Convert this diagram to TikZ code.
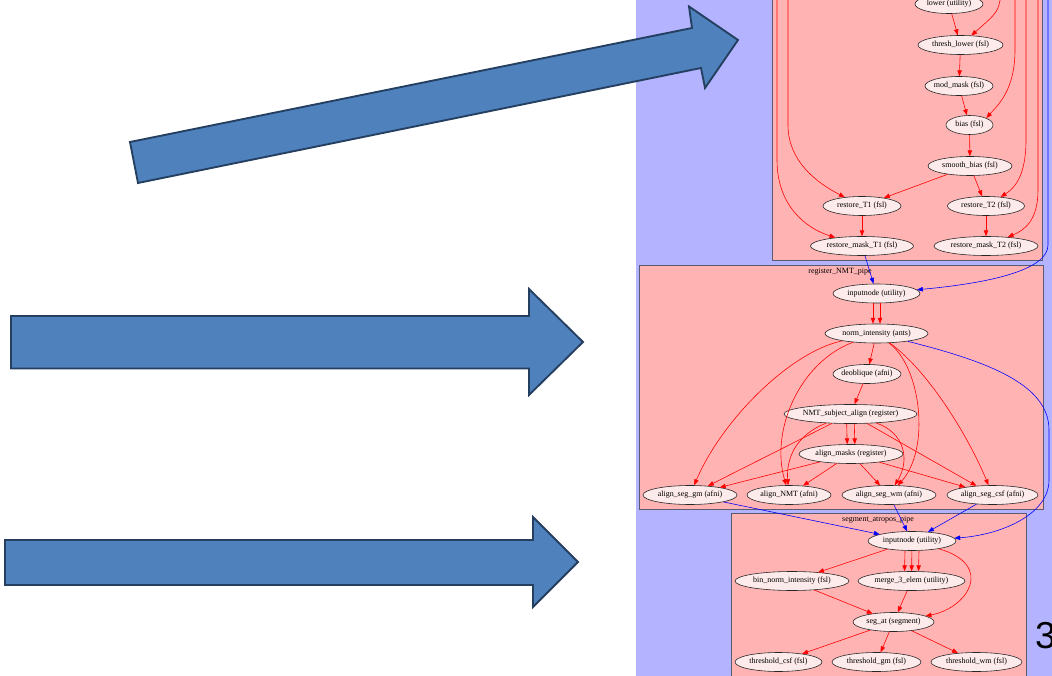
\documentclass[tikz,border=0pt]{standalone}
\usepackage{fontspec}
\setmainfont{Liberation Serif}
\newfontfamily\slidefont{Liberation Sans}
\usetikzlibrary{shapes.geometric,arrows.meta,calc}
\definecolor{slideblue}{HTML}{4F81BD}
\definecolor{slideedge}{HTML}{243F60}
\definecolor{graphbg}{HTML}{B3B3FF}
\definecolor{clusterbg}{HTML}{FFB3B3}
\definecolor{clusterline}{HTML}{5A5A70}
\definecolor{jobfill}{HTML}{FDEAEA}

\begin{document}
\begin{tikzpicture}[x=0.03cm, y=0.03cm,
		job/.style={ellipse, draw=black!85, fill=jobfill, line width=0.5pt, inner sep=-3pt,
			minimum height=0.57cm, minimum width=#1*0.03cm, font=\fontsize{6.8}{7}\selectfont},
		cluster/.style={fill=clusterbg, draw=clusterline, line width=0.6pt},
		caption/.style={inner sep=0pt, font=\fontsize{6.8}{7}\selectfont},
		flow/.style={red, line width=0.5pt, -{Triangle[length=5pt,width=3.8pt]}},
		feed/.style={blue, line width=0.5pt, -{Triangle[length=5pt,width=3.8pt]}},
		bigarrow/.style={fill=slideblue, draw=slideedge, line width=1.6pt, line join=miter}]
		\useasboundingbox (0,0) rectangle (1052,-676);
		\clip (0,0) rectangle (1052,-676);
		\fill [graphbg] (636,0) rectangle (1052,-676);
		\draw [bigarrow] (130,-142) -- (692,-28) -- (689,-6.5) -- (738,-40) -- (705,-88) -- (701,-68) -- (138,-183) -- cycle;
		\draw [bigarrow] (11,-316) -- (529,-316) -- (529,-289) -- (583,-342) -- (529,-395) -- (529,-368.5) -- (11,-368.5) -- cycle;
		\draw [bigarrow] (5,-540) -- (533,-540) -- (533,-517) -- (578,-562) -- (533,-607) -- (533,-585) -- (5,-585) -- cycle;
		\draw [cluster] (772,5) rectangle (1042,-260);
		\draw [cluster] (639,-265) rectangle (1043,-509);
		\draw [cluster] (731,-513) rectangle (1026,-685);
		\node [caption] (regname) at (840,-272) {register\_NMT\_pipe};
		\node [caption] (segname) at (878,-520) {segment\_atropos\_pipe};
		% bias correction
		\coordinate (inA) at (777,5);
		\coordinate (inB) at (788,5);
		\coordinate (inC) at (1001,5);
		\coordinate (inD) at (1015,5);
		\coordinate (inE) at (1026,5);
		\coordinate (inF) at (1038,5);
		\coordinate (inG) at (1048,5);
		\node [job=68] (lower) at (949,-4) {lower (utility)};
		\node [job=85] (threshlower) at (960.5,-45) {thresh\_lower (fsl)};
		\node [job=68] (modmask) at (959,-86) {mod\_mask (fsl)};
		\node [job=47] (bias) at (969.5,-125) {bias (fsl)};
		\node [job=84] (smoothbias) at (970,-166) {smooth\_bias (fsl)};
		\node [job=78] (restoreA) at (862,-206) {restore\_T1 (fsl)};
		\node [job=77] (restoreB) at (986,-206) {restore\_T2 (fsl)};
		\node [job=103] (maskA) at (862,-246) {restore\_mask\_T1 (fsl)};
		\node [job=104] (maskB) at (986,-246) {restore\_mask\_T2 (fsl)};
		\draw [flow] (lower) -- (threshlower);
		\draw [flow] (inC) .. controls (998,-12) .. (threshlower);
		\draw [flow] (threshlower) -- (modmask);
		\draw [flow] (modmask) -- (bias);
		\draw [flow] (inD) -- (1015,-50) .. controls (1015,-90) and (998,-105) .. (bias.north east);
		\draw [flow] (bias) -- (smoothbias);
		\draw [flow] (smoothbias) -- (restoreA);
		\draw [flow] (smoothbias) -- (restoreB);
		\draw [flow] (inB) -- (788,-125) .. controls (788,-160) and (815,-182) .. (restoreA);
		\draw [flow] (inA) -- (777,-160) .. controls (777,-205) and (805,-228) .. (maskA);
		\draw [flow] (inE) -- (1026,-140) .. controls (1026,-175) and (1015,-188) .. (restoreB);
		\draw [flow] (inF) -- (1038,-190) .. controls (1038,-220) and (1025,-230) .. (maskB);
		\draw [flow] (restoreA) -- (maskA);
		\draw [flow] (restoreB) -- (maskB);
		% register_NMT_pipe
		\node [job=87] (regin) at (876.5,-293.5) {inputnode (utility)};
		\node [job=103] (norm) at (876.5,-333.5) {norm\_intensity (ants)};
		\node [job=68] (deoblique) at (867,-374) {deoblique (afni)};
		\node [job=133] (subjalign) at (850.5,-414) {NMT\_subject\_align (register)};
		\node [job=104] (masks) at (851,-454) {align\_masks (register)};
		\node [job=94] (seggm) at (690,-495) {align\_seg\_gm (afni)};
		\node [job=84] (nmt) at (789,-495) {align\_NMT (afni)};
		\node [job=94] (segwm) at (889,-495) {align\_seg\_wm (afni)};
		\node [job=91] (segcsf) at (992.5,-495) {align\_seg\_csf (afni)};
		\draw [feed] (maskA) -- (regin);
		\draw [feed] (inG) -- (1048,-245) .. controls (1048,-270) and (990,-283) .. (regin);
		\draw [flow] ($(regin.south)+(-3.5,0)$) -- ($(norm.north)+(-3.5,0)$);
		\draw [flow] ($(regin.south)+(3.5,0)$) -- ($(norm.north)+(3.5,0)$);
		\draw [flow] (norm) -- (deoblique);
		\draw [flow] (deoblique) -- (subjalign);
		\draw [flow] ($(subjalign.south)+(-3.8,0)$) -- ($(masks.north)+(-3.8,0)$);
		\draw [flow] ($(subjalign.south)+(3.8,0)$) -- ($(masks.north)+(3.8,0)$);
		\draw [flow] (norm) .. controls (790,-352) and (722,-420) .. (seggm);
		\draw [flow] (norm) .. controls (800,-362) and (770,-430) .. (nmt);
		\draw [flow] (norm) .. controls (922,-368) and (930,-450) .. (segwm);
		\draw [flow] (norm) .. controls (930,-372) and (970,-440) .. (segcsf);
		\draw [flow] (subjalign) -- (seggm);
		\draw [flow] (subjalign) .. controls (795,-435) and (786,-460) .. (nmt);
		\draw [flow] (subjalign) .. controls (905,-433) and (910,-460) .. (segwm);
		\draw [flow] (subjalign) -- (segcsf);
		\draw [flow] (masks) -- (seggm);
		\draw [flow] (masks) -- (nmt);
		\draw [flow] (masks) -- (segwm);
		\draw [flow] (masks) -- (segcsf);
		% segment_atropos_pipe
		\node [job=88] (segin) at (912,-541) {inputnode (utility)};
		\node [job=114] (binnorm) at (792,-581) {bin\_norm\_intensity (fsl)};
		\node [job=107] (merge) at (911.5,-581) {merge\_3\_elem (utility)};
		\node [job=81] (segat) at (893.5,-622) {seg\_at (segment)};
		\node [job=87] (thcsf) at (778.5,-662) {threshold\_csf (fsl)};
		\node [job=89] (thgm) at (876.5,-662) {threshold\_gm (fsl)};
		\node [job=91] (thwm) at (976.5,-662) {threshold\_wm (fsl)};
		\draw [feed] (norm) .. controls (990,-362) and (1049,-385) .. (1049,-430) -- (1049,-480) .. controls (1049,-515) and (1000,-535) .. (segin);
		\draw [feed] (seggm) -- (segin);
		\draw [feed] (segwm) -- (segin);
		\draw [feed] (segcsf) -- (segin);
		\draw [flow] (segin) -- (binnorm);
		\draw [flow] ($(segin.south)+(-7,0)$) -- ($(merge.north)+(-7,0)$);
		\draw [flow] (segin) -- (merge);
		\draw [flow] ($(segin.south)+(7,0)$) -- ($(merge.north)+(7,0)$);
		\draw [flow] (segin) .. controls (995,-565) and (968,-608) .. (segat);
		\draw [flow] (binnorm) -- (segat);
		\draw [flow] (merge) -- (segat);
		\draw [flow] (segat) -- (thcsf);
		\draw [flow] (segat) -- (thgm);
		\draw [flow] (segat) -- (thwm);
		\node [anchor=west, inner sep=0pt, font=\slidefont\fontsize{32}{32}\selectfont] (pagenum) at (1035,-635.5) {3};
	\end{tikzpicture}
\end{document}
